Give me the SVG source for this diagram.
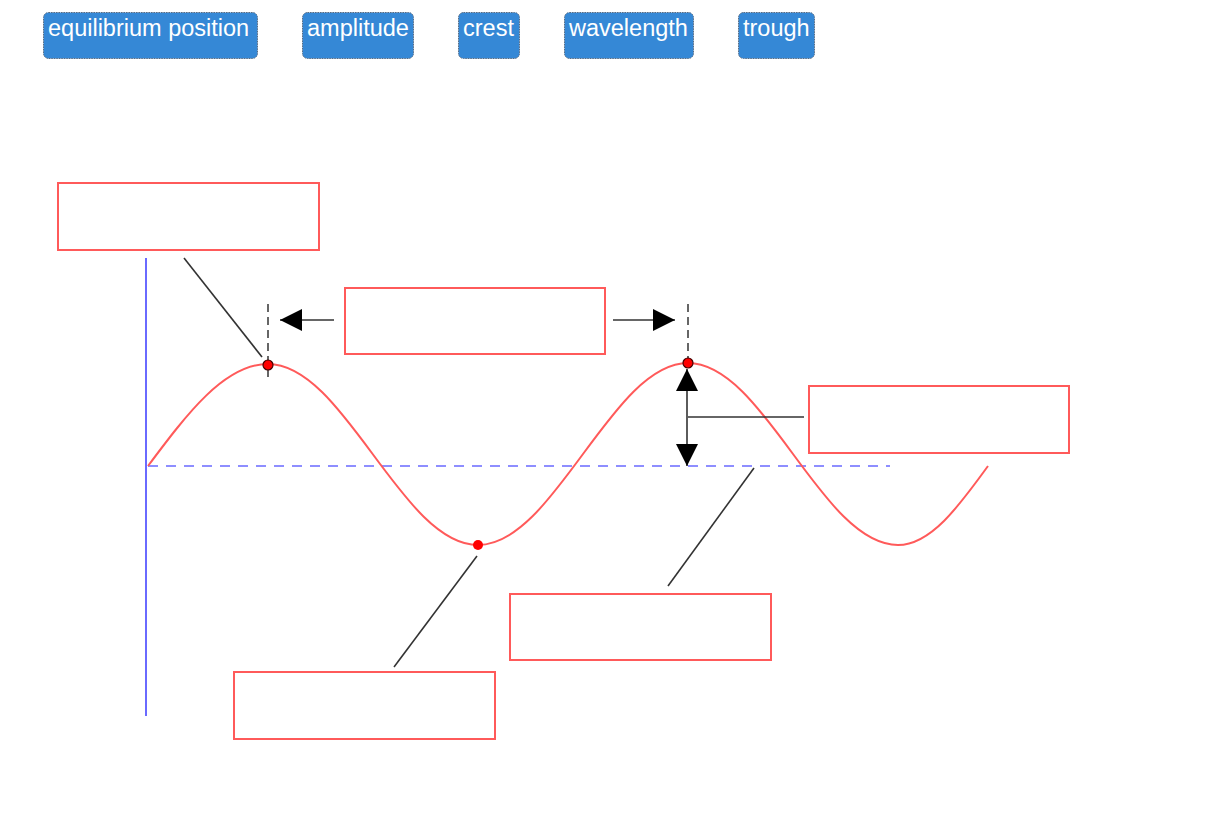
<svg xmlns="http://www.w3.org/2000/svg" width="1225" height="815" viewBox="0 0 1225 815">
<style>
.btn rect{fill:#3588d6;stroke:#5a6b80;stroke-width:1;stroke-dasharray:1.5,1}
.btn text{fill:#fff;font-family:"Liberation Sans",Arial,sans-serif;font-size:23.5px}
.box{fill:none;stroke:#ff5a5a;stroke-width:2}
.lead{stroke:#333;stroke-width:1.6;fill:none}
.gdash{stroke:#666;stroke-width:2;stroke-dasharray:8,5;fill:none}
</style>
<defs>
<marker id="ah" viewBox="0 0 22 22" refX="22" refY="11" markerWidth="22" markerHeight="22" markerUnits="userSpaceOnUse" orient="auto">
<path d="M0,0 L22,11 L0,22 Z" fill="#000"/>
</marker>
</defs>
<rect width="1225" height="815" fill="#fff"/>
<g id="btn-equilibrium" class="btn"><rect x="43.5" y="12.5" width="214" height="46" rx="5"/><text x="48" y="36">equilibrium position</text></g>
<g id="btn-amplitude" class="btn"><rect x="302.5" y="12.5" width="111" height="46" rx="5"/><text x="307" y="36">amplitude</text></g>
<g id="btn-crest" class="btn"><rect x="458.5" y="12.5" width="61" height="46" rx="5"/><text x="463" y="36">crest</text></g>
<g id="btn-wavelength" class="btn"><rect x="564.5" y="12.5" width="129" height="46" rx="5"/><text x="569" y="36">wavelength</text></g>
<g id="btn-trough" class="btn"><rect x="738.5" y="12.5" width="76" height="46" rx="5"/><text x="743" y="36">trough</text></g>

<g id="axes">
<line x1="146" y1="258" x2="146" y2="716" stroke="#6a6aff" stroke-width="2"/>
<line x1="148" y1="466" x2="890" y2="466" stroke="#6a6aff" stroke-width="1.6" stroke-dasharray="10,8"/>
</g>
<g id="wave">
<path d="M148,466 C187.1,413.7 224.6,364 268,364 C344.3,364 401.7,545 478,545 C554.3,545 611.7,363 688,363 C764.3,363 821.7,545 898,545 C930.6,545 958.7,506.5 988,466" fill="none" stroke="#ff5a5a" stroke-width="2"/>
</g>
<g id="connectors">
<line class="gdash" x1="268" y1="304" x2="268" y2="377"/>
<line class="gdash" x1="688" y1="304" x2="688" y2="360"/>
<line class="lead" x1="184" y1="258" x2="262" y2="357"/>
<line class="lead" x1="477" y1="556" x2="394" y2="667"/>
<line class="lead" x1="754" y1="468" x2="668" y2="586"/>
<line class="lead" x1="688" y1="417" x2="804" y2="417"/>
<line class="lead" x1="334" y1="320" x2="280" y2="320" marker-end="url(#ah)"/>
<line class="lead" x1="613" y1="320" x2="675" y2="320" marker-end="url(#ah)"/>
<line class="lead" x1="687" y1="417" x2="687" y2="369" marker-end="url(#ah)"/>
<line class="lead" x1="687" y1="417" x2="687" y2="466" marker-end="url(#ah)"/>
</g>
<g id="points">
<circle cx="268" cy="365" r="5" fill="#f00" stroke="#400" stroke-width="1.2"/>
<circle cx="688" cy="363" r="5" fill="#f00" stroke="#400" stroke-width="1.2"/>
<circle cx="478" cy="545" r="5" fill="#f00"/>
</g>
<g id="box-1"><rect class="box" x="58" y="183" width="261" height="67"/></g>
<g id="box-2"><rect class="box" x="345" y="288" width="260" height="66"/></g>
<g id="box-3"><rect class="box" x="809" y="386" width="260" height="67"/></g>
<g id="box-4"><rect class="box" x="510" y="594" width="261" height="66"/></g>
<g id="box-5"><rect class="box" x="234" y="672" width="261" height="67"/></g>
</svg>
